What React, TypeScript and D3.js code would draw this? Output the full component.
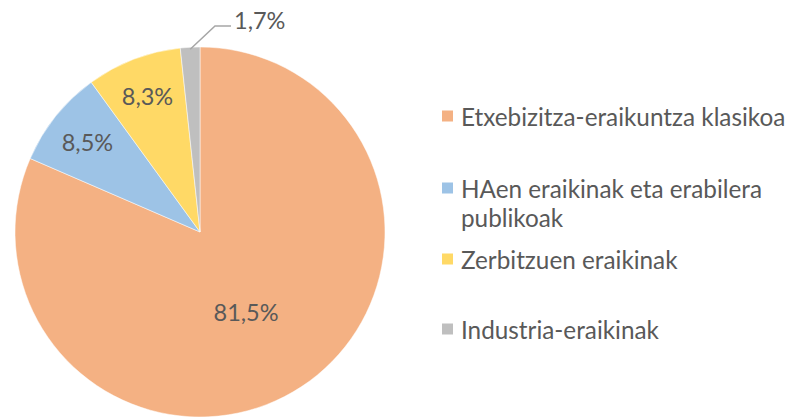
import { useEffect, useRef } from "react";
import * as d3 from "d3";

const categories = [
  "Etxebizitza-eraikuntza klasikoa",
  "HAen eraikinak eta erabilera publikoak",
  "Zerbitzuen eraikinak",
  "Industria-eraikinak",
];
const shares = [81.5, 8.5, 8.3, 1.7];
const colors = ["#F4B183", "#9DC3E6", "#FFD966", "#BFBFBF"];

// legend lines (wrapped as in the original)
const legendLines = [
  ["Etxebizitza-eraikuntza klasikoa"],
  ["HAen eraikinak eta erabilera", "publikoak"],
  ["Zerbitzuen eraikinak"],
  ["Industria-eraikinak"],
];

export default function App() {
  const ref = useRef<SVGSVGElement>(null);

  useEffect(() => {
    const svg = d3.select(ref.current);
    svg.selectAll("*").remove();

    const cx = 200;
    const cy = 232;
    const r = 185;
    const textColor = "#595959";
    const font = "Lato, 'Open Sans', sans-serif";

    const data = categories.map((c, i) => ({ name: c, value: shares[i], color: colors[i] }));
    const pie = d3
      .pie<any>()
      .sort(null)
      .value((d) => d.value);
    const arcs = pie(data);
    const arc = d3.arc<any>().innerRadius(0).outerRadius(r);

    const g = svg.append("g").attr("transform", `translate(${cx},${cy})`);

    g.selectAll("path.slice")
      .data(arcs)
      .enter()
      .append("path")
      .attr("class", "slice")
      .attr("d", arc)
      .attr("fill", (d) => d.data.color)
      .attr("stroke", "#fff")
      .attr("stroke-width", 0.5);

    // label radius as a fraction of r (Excel "best fit")
    const labelFrac = [0.5, 0.78, 0.79];
    const fmt = (v: number) => v.toFixed(1).replace(".", ",") + "%";

    arcs.slice(0, 3).forEach((d, i) => {
      let a = (d.startAngle + d.endAngle) / 2;
      if (i === 0) a += 0.06;
      const lr = r * labelFrac[i];
      const x = Math.sin(a) * lr;
      const y = -Math.cos(a) * lr;
      g.append("text")
        .attr("x", x)
        .attr("y", y)
        .attr("text-anchor", "middle")
        .attr("dominant-baseline", "central")
        .style("font-family", font)
        .style("font-size", "23.5px")
        .style("fill", textColor)
        .text(fmt(d.data.value));
    });

    // small slice: leader line + outside label
    const last = arcs[3];
    const am = (last.startAngle + last.endAngle) / 2;
    const p0: [number, number] = [Math.sin(am) * (r - 2), -Math.cos(am) * (r - 2)];
    const p1: [number, number] = [15, -206];
    const p2: [number, number] = [31, -206];
    g.append("path")
      .attr("d", d3.line()([p0, p1, p2]))
      .attr("fill", "none")
      .attr("stroke", "#A6A6A6")
      .attr("stroke-width", 1.5);
    g.append("text")
      .attr("x", p2[0] + 3)
      .attr("y", p2[1] - 6)
      .attr("dominant-baseline", "central")
      .style("font-family", font)
      .style("font-size", "23.5px")
      .style("fill", textColor)
      .text(fmt(last.data.value));

    // legend
    const lx = 442;
    const itemY = [116, 188, 259, 329];
    const lg = svg.append("g");
    legendLines.forEach((lines, i) => {
      lg.append("rect")
        .attr("x", lx)
        .attr("y", itemY[i] - 5.5)
        .attr("width", 11)
        .attr("height", 11)
        .attr("fill", colors[i]);
      lines.forEach((t, j) => {
        lg.append("text")
          .attr("x", lx + 19)
          .attr("y", itemY[i] + j * 29)
          .attr("dominant-baseline", "central")
          .style("font-family", font)
          .style("font-size", "24.3px")
          .style("fill", textColor)
          .text(t);
      });
    });
  }, []);

  return (
    <svg
      ref={ref}
      width={788}
      height={419}
      style={{ position: "absolute", left: 0, top: 0, background: "#fff" }}
    />
  );
}
